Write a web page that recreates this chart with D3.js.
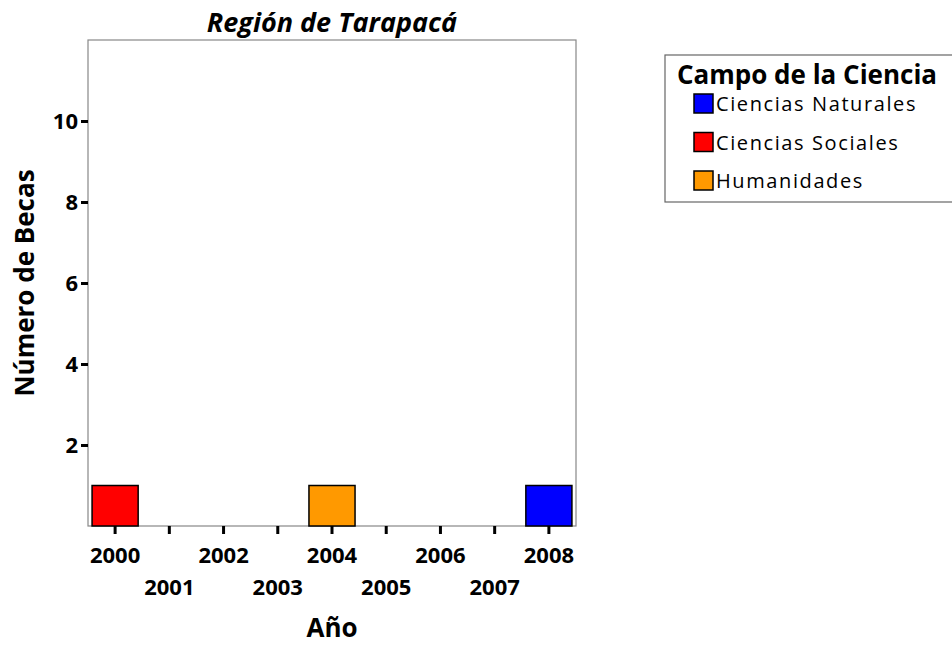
<!DOCTYPE html>
<html>
<head>
<meta charset="utf-8">
<script src="https://cdn.jsdelivr.net/npm/d3@7"></script>
<style>
  body { margin: 0; background: #fff; }
  svg text { font-family: "Open Sans", "Noto Sans", sans-serif; }
</style>
</head>
<body>
<div id="chart"></div>
<script>
// data
const years = ["2000", "2001", "2002", "2003", "2004", "2005", "2006", "2007", "2008"];
const campos = ["Ciencias Naturales", "Ciencias Sociales", "Humanidades"];
const cienciasNaturales = [0, 0, 0, 0, 0, 0, 0, 0, 1];
const cienciasSociales  = [1, 0, 0, 0, 0, 0, 0, 0, 0];
const humanidades       = [0, 0, 0, 0, 1, 0, 0, 0, 0];
const yTicks = [2, 4, 6, 8, 10];
const colores = ["#0000ff", "#ff0000", "#ff9900"];

const width = 952, height = 646;
const margin = {top: 40, right: 376, bottom: 120, left: 88};

const rows = years.map((y, i) => ({
  year: y,
  "Ciencias Naturales": cienciasNaturales[i],
  "Ciencias Sociales": cienciasSociales[i],
  "Humanidades": humanidades[i]
}));

const svg = d3.select("#chart")
  .append("svg")
    .attr("width", width)
    .attr("height", height);

const x = d3.scaleBand()
  .domain(years)
  .range([margin.left, width - margin.right])
  .paddingInner(0.15)
  .paddingOuter(0.075);

const y = d3.scaleLinear()
  .domain([0, 12])
  .range([height - margin.bottom, margin.top]);

const color = d3.scaleOrdinal().domain(campos).range(colores);

// frame
svg.append("rect")
  .attr("x", margin.left)
  .attr("y", margin.top)
  .attr("width", width - margin.right - margin.left)
  .attr("height", height - margin.bottom - margin.top)
  .attr("fill", "none")
  .attr("stroke", "#888")
  .attr("stroke-width", 1.2);

// stacked bars
const series = d3.stack().keys(campos)(rows);
svg.append("g")
  .selectAll("g")
  .data(series)
  .join("g")
    .attr("fill", d => color(d.key))
  .selectAll("rect")
  .data(d => d.filter(p => p[1] - p[0] > 0))
  .join("rect")
    .attr("x", d => x(d.data.year))
    .attr("y", d => y(d[1]))
    .attr("width", x.bandwidth())
    .attr("height", d => y(d[0]) - y(d[1]))
    .attr("stroke", "#000")
    .attr("stroke-width", 1.5);

// y axis
const yAxis = svg.append("g")
  .attr("transform", "translate(" + margin.left + ",0)")
  .call(d3.axisLeft(y).tickValues(yTicks).tickSize(7).tickPadding(3));
yAxis.select(".domain").remove();
yAxis.selectAll(".tick line").attr("stroke", "#000").attr("stroke-width", 3);
yAxis.selectAll(".tick text")
  .style("font-size", "22px").style("font-weight", "bold").attr("fill", "#000");

// x axis with alternating label rows
const xAxis = svg.append("g")
  .attr("transform", "translate(0," + (height - margin.bottom) + ")")
  .call(d3.axisBottom(x).tickSize(8).tickPadding(13));
xAxis.select(".domain").remove();
xAxis.selectAll(".tick line").attr("stroke", "#000").attr("stroke-width", 3);
xAxis.selectAll(".tick text")
  .style("font-size", "22px").style("font-weight", "bold").attr("fill", "#000")
  .attr("dy", (d, i) => i % 2 === 0 ? "0.71em" : "2.16em");

// title
svg.append("text")
  .attr("x", (margin.left + width - margin.right) / 2)
  .attr("y", 32)
  .attr("text-anchor", "middle")
  .style("font-size", "27px")
  .style("font-weight", "bold")
  .style("font-style", "italic")
  .text("Región de Tarapacá");

// axis titles
svg.append("text")
  .attr("x", (margin.left + width - margin.right) / 2)
  .attr("y", 637)
  .attr("text-anchor", "middle")
  .style("font-size", "26px")
  .style("font-weight", "bold")
  .text("Año");

svg.append("text")
  .attr("text-anchor", "middle")
  .style("font-size", "26px")
  .style("font-weight", "bold")
  .attr("transform", "translate(34," + ((margin.top + height - margin.bottom) / 2) + ") rotate(-90)")
  .text("Número de Becas");

// legend
const legend = svg.append("g").attr("transform", "translate(665,55)");
legend.append("rect")
  .attr("width", 290).attr("height", 147)
  .attr("fill", "#fff").attr("stroke", "#666").attr("stroke-width", 1.2);
legend.append("text")
  .attr("x", 12).attr("y", 29)
  .style("font-size", "26px").style("font-weight", "bold")
  .text("Campo de la Ciencia");
const items = legend.selectAll(".item")
  .data(campos)
  .join("g")
    .attr("class", "item")
    .attr("transform", (d, i) => "translate(29," + (39 + i * 38.5) + ")");
items.append("rect")
  .attr("width", 19).attr("height", 19)
  .attr("fill", d => color(d))
  .attr("stroke", "#000").attr("stroke-width", 1.5);
items.append("text")
  .attr("x", 22).attr("y", 17)
  .style("font-size", "20px")
  .style("letter-spacing", "1.6px")
  .text(d => d);
</script>
</body>
</html>
